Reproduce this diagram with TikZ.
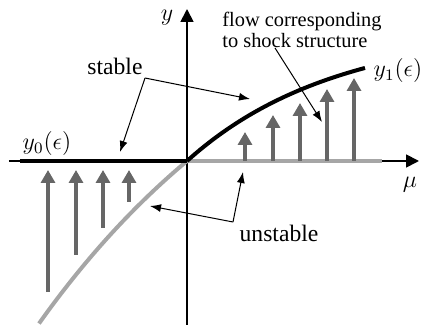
\documentclass[tikz,border=0pt]{standalone}
\usepackage{fontspec}
\setmainfont{Liberation Serif}
\usetikzlibrary{arrows.meta,positioning}

\begin{document}
\begin{tikzpicture}[
  x=0.5pt, y=0.5pt,
  axis/.style={-{Triangle[length=6.5pt,width=6.5pt]}, line width=0.9pt},
  branch/.style={line width=2pt},
  flow/.style={-{Triangle[length=6.5pt,width=7pt]}, line width=1.6pt, black!60},
  note/.style={-{Latex[length=5.5pt,width=4pt]}, line width=0.5pt},
  lbl/.style={inner sep=0pt, font=\fontsize{11.8}{14}\selectfont}
]
\useasboundingbox (-187,-164) rectangle (234,161);

% axes
\coordinate (O) at (0,0);
\coordinate (xstart) at (-178,0);
\coordinate (xend) at (232,0);
\coordinate (ystart) at (0,-164);
\coordinate (yend) at (0,152);
\draw[axis] (xstart) -- (xend);
\draw[axis] (ystart) -- (yend);

% branches
\draw[branch, black!35] (O) -- (195,0);
\draw[branch, black!35, domain=-148:0, samples=40]
  plot (\x, {240*(1-exp(-0.0035*\x))});
\draw[branch] (-167,0) -- (O);
\draw[branch, domain=0:178, samples=40]
  plot (\x, {132.5*(1-exp(-0.0068*\x))});

% flow towards stable branch
\foreach \px/\ylo/\yhi in {-139/-131/-9, -111/-94/-9, -84/-67/-9, -58/-41/-9,
                           58/0/29, 86/0/46, 113/0/58, 140/0/72, 167/0/83}
  \draw[flow] (\px,\ylo) -- (\px,\yhi);

% labels
\node[lbl] (lbly) at (-20,143) {$y$};
\node[lbl] (lblmu) at (223,-24) {$\mu$};
\node[lbl] (lbly0) at (-140,17) {$y_0(\epsilon)$};
\node[lbl] (lbly1) at (211,90) {$y_1(\epsilon)$};
\node[lbl] (lblstable) at (-72,95) {stable};
\node[lbl] (lblunstable) at (92,-72) {unstable};
\node[inner sep=0pt, align=left, font=\fontsize{10.2}{7.8}\selectfont]
  (lblflow) at (115,131) {flow corresponding\\to shock structure};

% pointers
\coordinate (stablebend) at (-42,83);
\coordinate (stableleft) at (-67,9);
\coordinate (stableright) at (63,62);
\draw[note] (stablebend) -- (stableleft);
\draw[note] (stablebend) -- (stableright);

\coordinate (unstablebend) at (46,-61);
\coordinate (unstableup) at (56,-11);
\coordinate (unstableleft) at (-37,-45);
\draw[note] (unstablebend) -- (unstableup);
\draw[note] (unstablebend) -- (unstableleft);

\coordinate (flowstart) at (88,113);
\coordinate (flowtip) at (135,39);
\draw[note] (flowstart) -- (flowtip);
\end{tikzpicture}
\end{document}
